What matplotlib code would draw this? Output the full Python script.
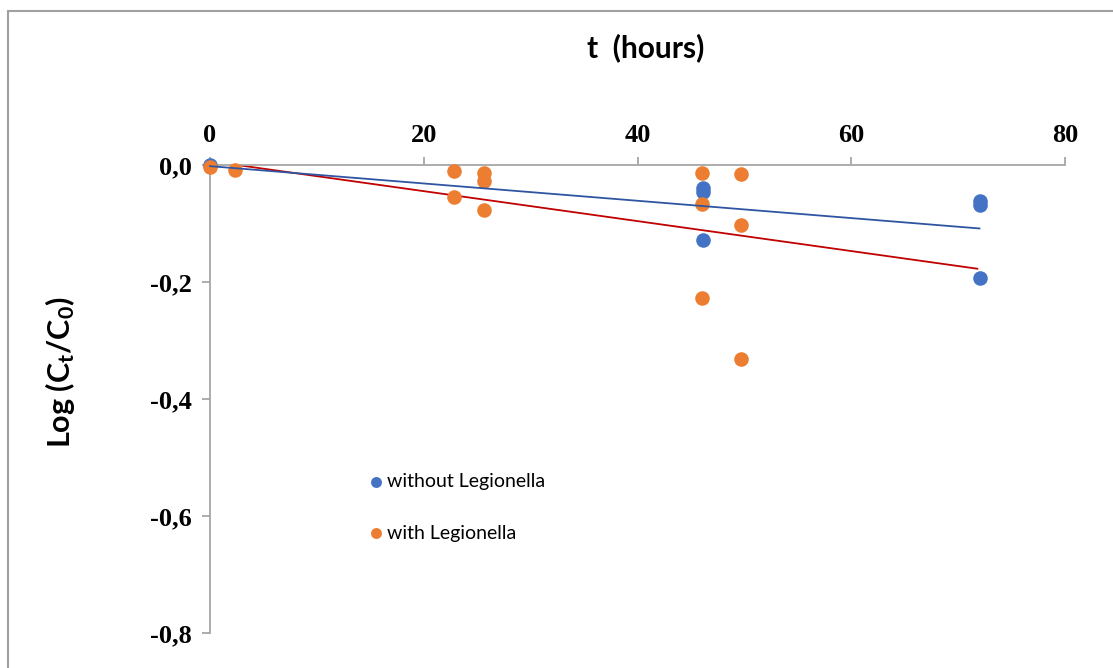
import matplotlib

matplotlib.use("Agg")
import matplotlib.pyplot as plt
import numpy as np
from matplotlib.patches import Rectangle
from matplotlib.ticker import FuncFormatter

# measured log reductions, Log(Ct/C0), against time in hours
t_without = [0, 46.1, 46.1, 46.1, 72, 72, 72]
logc_without = [0.0, -0.040, -0.047, -0.129, -0.061, -0.068, -0.193]

t_with = [0, 2.3, 22.8, 22.8, 25.6, 25.6, 25.6, 46, 46, 46, 49.7, 49.7, 49.7]
logc_with = [-0.004, -0.0085, -0.011, -0.055, -0.013, -0.027, -0.077,
             -0.014, -0.066, -0.227, -0.015, -0.103, -0.332]

# linear trend for the "with" series (intercept, slope per hour, time span)
trend_with = (0.0065, -0.00256)
trend_with_span = (2.3, 71.8)

x_ticks = [0, 20, 40, 60, 80]
y_ticks = [0.0, -0.2, -0.4, -0.6, -0.8]

BLUE = "#4472C4"
ORANGE = "#ED7D31"
AXIS_GREY = "#A6A6A6"

plt.rcParams["mathtext.fontset"] = "custom"
plt.rcParams["mathtext.rm"] = "Lato:bold"
plt.rcParams["mathtext.it"] = "Lato:bold"
plt.rcParams["mathtext.bf"] = "Lato:bold"

fig = plt.figure(figsize=(11.13, 6.68), dpi=100)
ax = fig.add_axes([210 / 1113, 35 / 668, 855 / 1113, 468 / 668])

ax.scatter(t_without, logc_without, s=110, color=BLUE, label="without Legionella",
           zorder=3, clip_on=False, linewidths=0)
ax.scatter(t_with, logc_with, s=110, color=ORANGE, label="with Legionella",
           zorder=4, clip_on=False, linewidths=0)

# trend lines
slope_b, icpt_b = np.polyfit(t_without, logc_without, 1)
tb = np.array([min(t_without), max(t_without)])
ax.plot(tb, icpt_b + slope_b * tb, color="#2F55A2", lw=1.3, zorder=5, clip_on=False)
tw = np.array(trend_with_span)
ax.plot(tw, trend_with[0] + trend_with[1] * tw, color="#C00000", lw=1.3, zorder=2,
        clip_on=False)

ax.set_xlim(0, 80)
ax.set_ylim(-0.8, 0)
ax.set_xticks(x_ticks)
ax.set_yticks(y_ticks)
ax.xaxis.tick_top()
ax.yaxis.set_major_formatter(FuncFormatter(lambda v, _: f"{v:.1f}".replace(".", ",").replace("-0,0", "0,0")))

for side in ("bottom", "right"):
    ax.spines[side].set_visible(False)
for side in ("top", "left"):
    ax.spines[side].set_color(AXIS_GREY)
    ax.spines[side].set_linewidth(1.3)

ax.tick_params(axis="both", direction="out", length=6, width=1.3, color=AXIS_GREY,
               labelsize=19, pad=7)
for lbl in ax.get_xticklabels() + ax.get_yticklabels():
    lbl.set_fontfamily("Liberation Serif")
    lbl.set_fontweight("bold")

fig.text(646 / 1113, 1 - 48 / 668, "t  (hours)", ha="center", va="center",
         fontsize=21.5, fontweight="bold", family="Lato")
fig.text(60 / 1113, 1 - 372 / 668, "Log (C$_{t}$/C$_{0}$)", ha="center", va="center",
         rotation=90, fontsize=22, fontweight="bold", family="Lato")

ax.legend(loc="upper left", bbox_to_anchor=(349 / 1113, 1 - 456 / 668),
          bbox_transform=fig.transFigure, frameon=False, markerscale=0.75,
          handletextpad=0.05, handlelength=1.0, labelspacing=1.75,
          prop={"family": "Lato", "size": 14})

fig.patches.append(Rectangle((8 / 1113, -0.05), 1.1, (1 - 11 / 668) + 0.05,
                             transform=fig.transFigure, fill=False,
                             edgecolor="#A0A0A0", lw=1.5))

fig.savefig("out.png", dpi=100, facecolor="white")
